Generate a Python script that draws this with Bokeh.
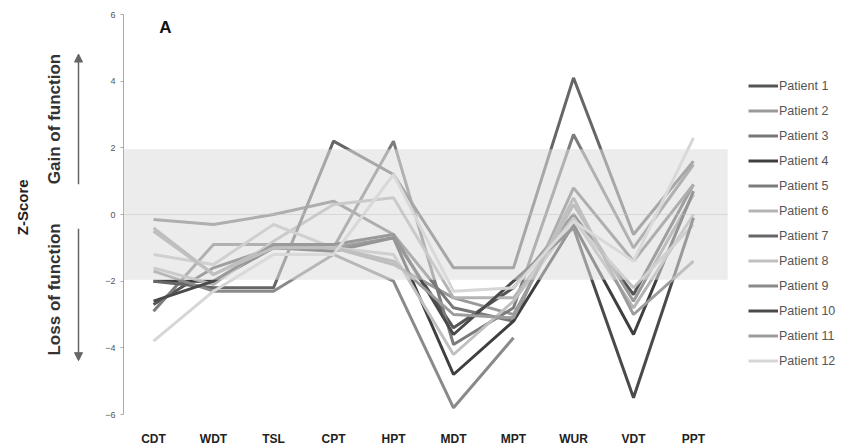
import numpy as np
from bokeh.plotting import figure
from bokeh.layouts import row
from bokeh.models import (Range1d, FixedTicker, BoxAnnotation, Label, Arrow, NormalHead)
from bokeh.embed import file_html
from bokeh.resources import INLINE

nan = np.nan
tests = ["CDT", "WDT", "TSL", "CPT", "HPT", "MDT", "MPT", "WUR", "VDT", "PPT"]
patients = ["Patient 1", "Patient 2", "Patient 3", "Patient 4", "Patient 5", "Patient 6",
            "Patient 7", "Patient 8", "Patient 9", "Patient 10", "Patient 11", "Patient 12"]

p1 = [-2.7, -1.6, -1.0, -1.0, -0.7, -3.4, -2.2, 0.0, -2.4, 0.9]
p2 = [-0.4, -1.8, -0.9, -1.0, -1.5, -2.5, -3.0, 0.3, -2.6, 0.6]
p3 = [-0.15, -0.3, 0.0, 0.4, -0.6, -2.8, -3.2, 0.8, -1.4, 0.9]
p4 = [-2.0, -2.0, -1.0, -1.1, -0.7, -4.8, -3.2, -0.3, -3.6, 0.7]
p5 = [-2.9, -0.9, -0.9, -1.0, 2.2, -3.9, -2.8, 2.4, -1.0, 1.5]
p6 = [-1.6, -2.1, -0.8, 0.3, 0.5, -2.5, -2.5, -0.1, -2.8, 0.0]
p7 = [-2.0, -2.2, -2.2, 2.2, 1.2, -1.6, -1.6, 4.1, -0.6, 1.6]
p8 = [-1.2, -1.5, -0.3, -1.0, -1.2, -4.2, -2.6, -0.2, -2.2, -0.3]
p9 = [-1.7, -2.3, -2.3, -1.2, -2.0, -5.8, -3.7, nan, nan, nan]
p10 = [-2.6, -2.0, -0.9, -0.9, -0.6, -3.6, -2.0, -0.4, -5.5, -0.1]
p11 = [-0.5, -1.8, -1.0, -1.0, -1.4, -3.0, -3.1, 0.5, -3.0, -1.4]
p12 = [-3.8, -2.3, -1.2, -1.2, 1.2, -2.3, -2.2, -0.2, -1.4, 2.3]
series = [p1, p2, p3, p4, p5, p6, p7, p8, p9, p10, p11, p12]
colors = ["#555555", "#9a9a9a", "#777777", "#3f3f3f", "#7c7c7c", "#b4b4b4",
          "#666666", "#c0c0c0", "#8a8a8a", "#4a4a4a", "#9c9c9c", "#d6d6d6"]

y_ticks = [-6, -4, -2, 0, 2, 4, 6]
BAND_LO, BAND_HI = -1.96, 1.96
X_LO = -0.5
BAND_RIGHT = 9.57
FONT = "Liberation Sans"
PX_PER_UNIT = 404 / 12
LEFT_W = 98

# ---- main chart ----
p = figure(width=847 - LEFT_W, height=448, output_backend="svg", toolbar_location=None,
           x_range=Range1d(X_LO, X_LO + 724 / 60), y_range=Range1d(-6, 6),
           min_border_left=123 - LEFT_W, min_border_right=0, min_border_top=14,
           min_border_bottom=30)
p.outline_line_color = None
p.xgrid.visible = False
p.ygrid.visible = False

xs = list(range(len(tests)))
for name, vals, col in zip(patients, series, colors):
    p.line(x=xs, y=vals, line_width=3, line_color=col, legend_label=name)

p.add_layout(BoxAnnotation(left=X_LO, right=BAND_RIGHT, bottom=BAND_LO, top=BAND_HI,
                           fill_color="#dcdcdc", fill_alpha=0.55, line_color=None))
p.add_layout(BoxAnnotation(left=X_LO, right=BAND_RIGHT, bottom=0, top=0,
                           fill_alpha=0, line_color="#c4c4c4", line_width=1))

p.xaxis.ticker = FixedTicker(ticks=xs)
p.xaxis.major_label_overrides = {i: t for i, t in enumerate(tests)}
p.xaxis.axis_line_color = None
p.xaxis.major_tick_line_color = None
p.xaxis.minor_tick_line_color = None
p.xaxis.major_label_text_font = FONT
p.xaxis.major_label_text_font_style = "bold"
p.xaxis.major_label_text_font_size = "12px"
p.xaxis.major_label_text_color = "#222222"
p.xaxis.major_label_standoff = 11

p.yaxis.ticker = FixedTicker(ticks=y_ticks)
p.yaxis.axis_line_color = "#aaaaaa"
p.yaxis.major_tick_line_color = "#aaaaaa"
p.yaxis.major_tick_out = 3
p.yaxis.major_tick_in = 0
p.yaxis.minor_tick_line_color = None
p.yaxis.major_label_text_font = FONT
p.yaxis.major_label_text_font_size = "9px"
p.yaxis.major_label_text_color = "#555555"
p.yaxis.major_label_standoff = 5

lg = p.legend[0]
lg.location = (625, 46)
lg.glyph_width = 30
lg.glyph_height = 15
lg.label_height = 15
lg.spacing = 10
lg.padding = 0
lg.margin = 0
lg.border_line_color = None
lg.background_fill_alpha = 0
lg.label_standoff = 1
lg.label_text_font = FONT
lg.label_text_font_size = "12.5px"
lg.label_text_color = "#555555"

p.add_layout(Label(x=0.2, y=5.6, text="A", text_font=FONT, text_font_style="bold",
                   text_font_size="17px", text_align="center", text_baseline="middle",
                   text_color="#111111"))

# ---- left strip with the axis title and arrows ----
q = figure(width=LEFT_W, height=448, output_backend="svg", toolbar_location=None,
           x_range=Range1d(0, LEFT_W),
           y_range=Range1d(-6 - 30 / PX_PER_UNIT, 6 + 14 / PX_PER_UNIT),
           min_border=0)
q.outline_line_color = None
q.axis.visible = False
q.grid.visible = False
q.add_layout(Label(x=22, y=0, text="Z-Score", angle=np.pi / 2, text_font=FONT,
                   text_font_style="bold", text_font_size="15px", text_align="center",
                   text_baseline="middle", text_color="#222222"))
q.add_layout(Label(x=54, y=2.94, text="Gain of function", angle=np.pi / 2, text_font=FONT,
                   text_font_style="bold", text_font_size="17px", text_align="center",
                   text_baseline="middle", text_color="#333333"))
q.add_layout(Label(x=54, y=-2.73, text="Loss of function", angle=np.pi / 2, text_font=FONT,
                   text_font_style="bold", text_font_size="17px", text_align="center",
                   text_baseline="middle", text_color="#333333"))
q.add_layout(Arrow(x_start=78, y_start=0.77, x_end=78, y_end=5.1,
                   line_color="#666666", line_width=1.5,
                   end=NormalHead(size=8, fill_color="#666666", line_color="#666666")))
q.add_layout(Arrow(x_start=78, y_start=-0.71, x_end=78, y_end=-5.1,
                   line_color="#666666", line_width=1.5,
                   end=NormalHead(size=8, fill_color="#666666", line_color="#666666")))

layout = row(q, p, spacing=0)
open("out.html", "w").write(file_html(layout, INLINE))
